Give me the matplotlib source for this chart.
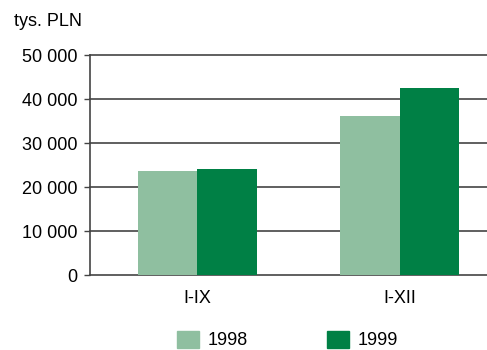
import numpy as np
import matplotlib.pyplot as plt
from matplotlib.patches import Patch

plt.rcParams['font.family'] = ['Liberation Sans', 'DejaVu Sans']

categories = ['I-IX', 'I-XII']
years = ['1998', '1999']
values_1998 = [23600, 36100]
values_1999 = [24100, 42600]
yticks = [0, 10000, 20000, 30000, 40000, 50000]
colors = ['#8fbfa0', '#008045']

fig = plt.figure(figsize=(4.87, 3.5), dpi=100)
ax = fig.add_axes([90/487, 1 - 275/350, 397/487, 220/350])

x = np.arange(len(categories))
w = 0.295
ax.bar(x - w/2, values_1998, w, color=colors[0], zorder=3)
ax.bar(x + w/2, values_1999, w, color=colors[1], zorder=3)

ax.set_xlim(-0.532, 1.433)
ax.set_ylim(0, 50000)
ax.set_yticks(yticks)
ax.set_yticklabels([f'{v:,}'.replace(',', ' ') for v in yticks], fontsize=13)
for v in yticks:
    ax.axhline(v, color='#444444', lw=1.2, zorder=2, clip_on=False)

ax.set_xticks(x)
ax.set_xticklabels(categories, fontsize=13)
ax.tick_params(axis='x', length=0, pad=11)
ax.tick_params(axis='y', length=4, width=1, color='#444444', pad=5)

for s in ['top', 'right', 'bottom']:
    ax.spines[s].set_visible(False)
ax.spines['left'].set_color('#444444')
ax.spines['left'].set_linewidth(1.2)

fig.text(14/487, 1 - 21/350, 'tys. PLN', fontsize=13, va='center', ha='left')

handles = [Patch(color=c, label=y) for c, y in zip(colors, years)]
fig.legend(handles=handles, ncol=2, loc='center left',
           bbox_to_anchor=(177/487, 1 - 340/350), frameon=False,
           fontsize=13, handlelength=1.2, handleheight=1.1,
           handletextpad=0.5, columnspacing=4.4, borderaxespad=0, borderpad=0)

fig.savefig('out.png', dpi=100)
